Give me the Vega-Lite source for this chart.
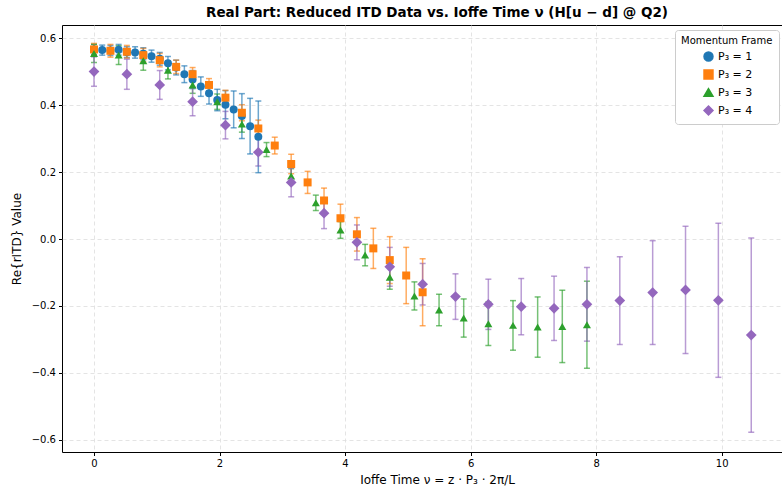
{
  "$schema": "https://vega.github.io/schema/vega-lite/v6.json",
  "autosize": {"type": "none"},
  "padding": {"left": 62, "top": 25, "right": 0, "bottom": 39},
  "width": 750,
  "height": 427,
  "title": {"text": "Real Part: Reduced ITD Data vs. Ioffe Time ν (H[u − d] @ Q2)", "fontSize": 13.5, "font": "DejaVu Sans", "fontWeight": "bold", "color": "black", "anchor": "middle", "offset": 6},
  "config": {
    "font": "DejaVu Sans",
    "view": {"stroke": "black", "strokeWidth": 1},
    "axis": {
      "domain": false,
      "tickColor": "black",
      "tickSize": 3.5,
      "labelColor": "black",
      "labelFontSize": 10,
      "labelPadding": 3,
      "titleColor": "black",
      "titleFontSize": 12,
      "titleFontWeight": "normal",
      "gridColor": "#dddddd",
      "gridDash": [4, 3],
      "gridWidth": 0.8
    },
    "legend": {
      "orient": "none",
      "legendX": 613,
      "legendY": 5,
      "fillColor": "white",
      "strokeColor": "#cccccc",
      "cornerRadius": 3,
      "padding": 6,
      "titleFontSize": 10,
      "titleFontWeight": "normal",
      "titleColor": "black",
      "labelFontSize": 11,
      "labelColor": "black",
      "symbolOffset": 22,
      "symbolOpacity": 1,
      "symbolSize": 80,
      "rowPadding": 3,
      "titlePadding": 5
    }
  },
  "data": {"values": [
    {"s": "P₃ = 1", "nu": 0, "y": 0.566, "e": 0.015},
    {"s": "P₃ = 1", "nu": 0.1309, "y": 0.564, "e": 0.015},
    {"s": "P₃ = 1", "nu": 0.2618, "y": 0.563, "e": 0.015},
    {"s": "P₃ = 1", "nu": 0.3927, "y": 0.565, "e": 0.016},
    {"s": "P₃ = 1", "nu": 0.5236, "y": 0.558, "e": 0.016},
    {"s": "P₃ = 1", "nu": 0.6545, "y": 0.557, "e": 0.017},
    {"s": "P₃ = 1", "nu": 0.7854, "y": 0.553, "e": 0.018},
    {"s": "P₃ = 1", "nu": 0.9163, "y": 0.546, "e": 0.018},
    {"s": "P₃ = 1", "nu": 1.0472, "y": 0.538, "e": 0.019},
    {"s": "P₃ = 1", "nu": 1.1781, "y": 0.525, "e": 0.02},
    {"s": "P₃ = 1", "nu": 1.309, "y": 0.512, "e": 0.022},
    {"s": "P₃ = 1", "nu": 1.4399, "y": 0.492, "e": 0.025},
    {"s": "P₃ = 1", "nu": 1.5708, "y": 0.476, "e": 0.027},
    {"s": "P₃ = 1", "nu": 1.7017, "y": 0.455, "e": 0.029},
    {"s": "P₃ = 1", "nu": 1.8326, "y": 0.435, "e": 0.032},
    {"s": "P₃ = 1", "nu": 1.9635, "y": 0.415, "e": 0.032},
    {"s": "P₃ = 1", "nu": 2.0944, "y": 0.401, "e": 0.042},
    {"s": "P₃ = 1", "nu": 2.2253, "y": 0.387, "e": 0.055},
    {"s": "P₃ = 1", "nu": 2.3562, "y": 0.367, "e": 0.067},
    {"s": "P₃ = 1", "nu": 2.4871, "y": 0.337, "e": 0.083},
    {"s": "P₃ = 1", "nu": 2.618, "y": 0.305, "e": 0.107},
    {"s": "P₃ = 2", "nu": 0, "y": 0.566, "e": 0.018},
    {"s": "P₃ = 2", "nu": 0.2618, "y": 0.562, "e": 0.019},
    {"s": "P₃ = 2", "nu": 0.5236, "y": 0.559, "e": 0.019},
    {"s": "P₃ = 2", "nu": 0.7854, "y": 0.549, "e": 0.02},
    {"s": "P₃ = 2", "nu": 1.0472, "y": 0.534, "e": 0.02},
    {"s": "P₃ = 2", "nu": 1.309, "y": 0.514, "e": 0.02},
    {"s": "P₃ = 2", "nu": 1.5708, "y": 0.492, "e": 0.02},
    {"s": "P₃ = 2", "nu": 1.8326, "y": 0.46, "e": 0.019},
    {"s": "P₃ = 2", "nu": 2.0944, "y": 0.422, "e": 0.022},
    {"s": "P₃ = 2", "nu": 2.3562, "y": 0.377, "e": 0.024},
    {"s": "P₃ = 2", "nu": 2.618, "y": 0.33, "e": 0.025},
    {"s": "P₃ = 2", "nu": 2.8798, "y": 0.279, "e": 0.025},
    {"s": "P₃ = 2", "nu": 3.1416, "y": 0.224, "e": 0.029},
    {"s": "P₃ = 2", "nu": 3.4034, "y": 0.169, "e": 0.033},
    {"s": "P₃ = 2", "nu": 3.6652, "y": 0.115, "e": 0.037},
    {"s": "P₃ = 2", "nu": 3.927, "y": 0.062, "e": 0.042},
    {"s": "P₃ = 2", "nu": 4.1888, "y": 0.014, "e": 0.05},
    {"s": "P₃ = 2", "nu": 4.4506, "y": -0.028, "e": 0.06},
    {"s": "P₃ = 2", "nu": 4.7124, "y": -0.063, "e": 0.07},
    {"s": "P₃ = 2", "nu": 4.9742, "y": -0.109, "e": 0.084},
    {"s": "P₃ = 2", "nu": 5.236, "y": -0.159, "e": 0.1},
    {"s": "P₃ = 3", "nu": 0, "y": 0.554, "e": 0.027},
    {"s": "P₃ = 3", "nu": 0.3927, "y": 0.549, "e": 0.028},
    {"s": "P₃ = 3", "nu": 0.7854, "y": 0.532, "e": 0.028},
    {"s": "P₃ = 3", "nu": 1.1781, "y": 0.504, "e": 0.026},
    {"s": "P₃ = 3", "nu": 1.5708, "y": 0.46, "e": 0.025},
    {"s": "P₃ = 3", "nu": 1.9635, "y": 0.41, "e": 0.023},
    {"s": "P₃ = 3", "nu": 2.3562, "y": 0.343, "e": 0.024},
    {"s": "P₃ = 3", "nu": 2.7489, "y": 0.267, "e": 0.021},
    {"s": "P₃ = 3", "nu": 3.1416, "y": 0.188, "e": 0.022},
    {"s": "P₃ = 3", "nu": 3.5343, "y": 0.108, "e": 0.023},
    {"s": "P₃ = 3", "nu": 3.927, "y": 0.027, "e": 0.025},
    {"s": "P₃ = 3", "nu": 4.3197, "y": -0.048, "e": 0.032},
    {"s": "P₃ = 3", "nu": 4.7124, "y": -0.114, "e": 0.036},
    {"s": "P₃ = 3", "nu": 5.1051, "y": -0.17, "e": 0.042},
    {"s": "P₃ = 3", "nu": 5.4978, "y": -0.212, "e": 0.047},
    {"s": "P₃ = 3", "nu": 5.8905, "y": -0.236, "e": 0.057},
    {"s": "P₃ = 3", "nu": 6.2832, "y": -0.253, "e": 0.065},
    {"s": "P₃ = 3", "nu": 6.6759, "y": -0.258, "e": 0.074},
    {"s": "P₃ = 3", "nu": 7.0686, "y": -0.263, "e": 0.09},
    {"s": "P₃ = 3", "nu": 7.4613, "y": -0.261, "e": 0.108},
    {"s": "P₃ = 3", "nu": 7.854, "y": -0.256, "e": 0.13},
    {"s": "P₃ = 4", "nu": 0, "y": 0.5, "e": 0.044},
    {"s": "P₃ = 4", "nu": 0.5236, "y": 0.492, "e": 0.045},
    {"s": "P₃ = 4", "nu": 1.0472, "y": 0.46, "e": 0.043},
    {"s": "P₃ = 4", "nu": 1.5708, "y": 0.41, "e": 0.042},
    {"s": "P₃ = 4", "nu": 2.0944, "y": 0.34, "e": 0.041},
    {"s": "P₃ = 4", "nu": 2.618, "y": 0.259, "e": 0.041},
    {"s": "P₃ = 4", "nu": 3.1416, "y": 0.169, "e": 0.043},
    {"s": "P₃ = 4", "nu": 3.6652, "y": 0.077, "e": 0.046},
    {"s": "P₃ = 4", "nu": 4.1888, "y": -0.01, "e": 0.052},
    {"s": "P₃ = 4", "nu": 4.7124, "y": -0.083, "e": 0.058},
    {"s": "P₃ = 4", "nu": 5.236, "y": -0.135, "e": 0.062},
    {"s": "P₃ = 4", "nu": 5.7596, "y": -0.172, "e": 0.068},
    {"s": "P₃ = 4", "nu": 6.2832, "y": -0.195, "e": 0.075},
    {"s": "P₃ = 4", "nu": 6.8068, "y": -0.202, "e": 0.084},
    {"s": "P₃ = 4", "nu": 7.3304, "y": -0.207, "e": 0.096},
    {"s": "P₃ = 4", "nu": 7.854, "y": -0.195, "e": 0.11},
    {"s": "P₃ = 4", "nu": 8.3776, "y": -0.184, "e": 0.131},
    {"s": "P₃ = 4", "nu": 8.9012, "y": -0.16, "e": 0.155},
    {"s": "P₃ = 4", "nu": 9.4248, "y": -0.152, "e": 0.19},
    {"s": "P₃ = 4", "nu": 9.948, "y": -0.183, "e": 0.23},
    {"s": "P₃ = 4", "nu": 10.472, "y": -0.287, "e": 0.29}
  ]},
  "encoding": {
    "x": {"field": "nu", "type": "quantitative", "scale": {"domain": [-0.51, 11.44], "nice": false, "zero": false},
      "axis": {"title": "Ioffe Time ν = z · P₃ · 2π/L", "values": [0, 2, 4, 6, 8, 10], "format": "d", "titlePadding": 6}},
    "color": {"field": "s", "type": "nominal", "title": "Momentum Frame",
      "scale": {"domain": ["P₃ = 1", "P₃ = 2", "P₃ = 3", "P₃ = 4"], "range": ["#1f77b4", "#ff7f0e", "#2ca02c", "#9467bd"]}}
  },
  "layer": [
    {
      "mark": {"type": "errorbar", "ticks": true, "size": 6, "thickness": 1.5, "opacity": 0.65},
      "encoding": {
        "y": {"field": "y", "type": "quantitative", "scale": {"domain": [-0.636, 0.639], "nice": false, "zero": false},
          "axis": {"title": "Re{rITD} Value", "values": [-0.6, -0.4, -0.2, 0, 0.2, 0.4, 0.6], "format": ".1f", "titlePadding": 8}},
        "yError": {"field": "e"}
      }
    },
    {
      "transform": [{"filter": "datum.s !== 'P₃ = 4'"}],
      "mark": {"type": "point", "filled": true, "opacity": 1, "size": 64},
      "encoding": {
        "y": {"field": "y", "type": "quantitative"},
        "shape": {"field": "s", "type": "nominal", "title": "Momentum Frame",
          "scale": {"domain": ["P₃ = 1", "P₃ = 2", "P₃ = 3", "P₃ = 4"], "range": ["circle", "square", "triangle-up", "diamond"]}}
      }
    },
    {
      "transform": [{"filter": "datum.s === 'P₃ = 4'"}],
      "mark": {"type": "point", "filled": true, "opacity": 1, "size": 115},
      "encoding": {
        "y": {"field": "y", "type": "quantitative"},
        "shape": {"field": "s", "type": "nominal", "title": "Momentum Frame"}
      }
    }
  ]
}
